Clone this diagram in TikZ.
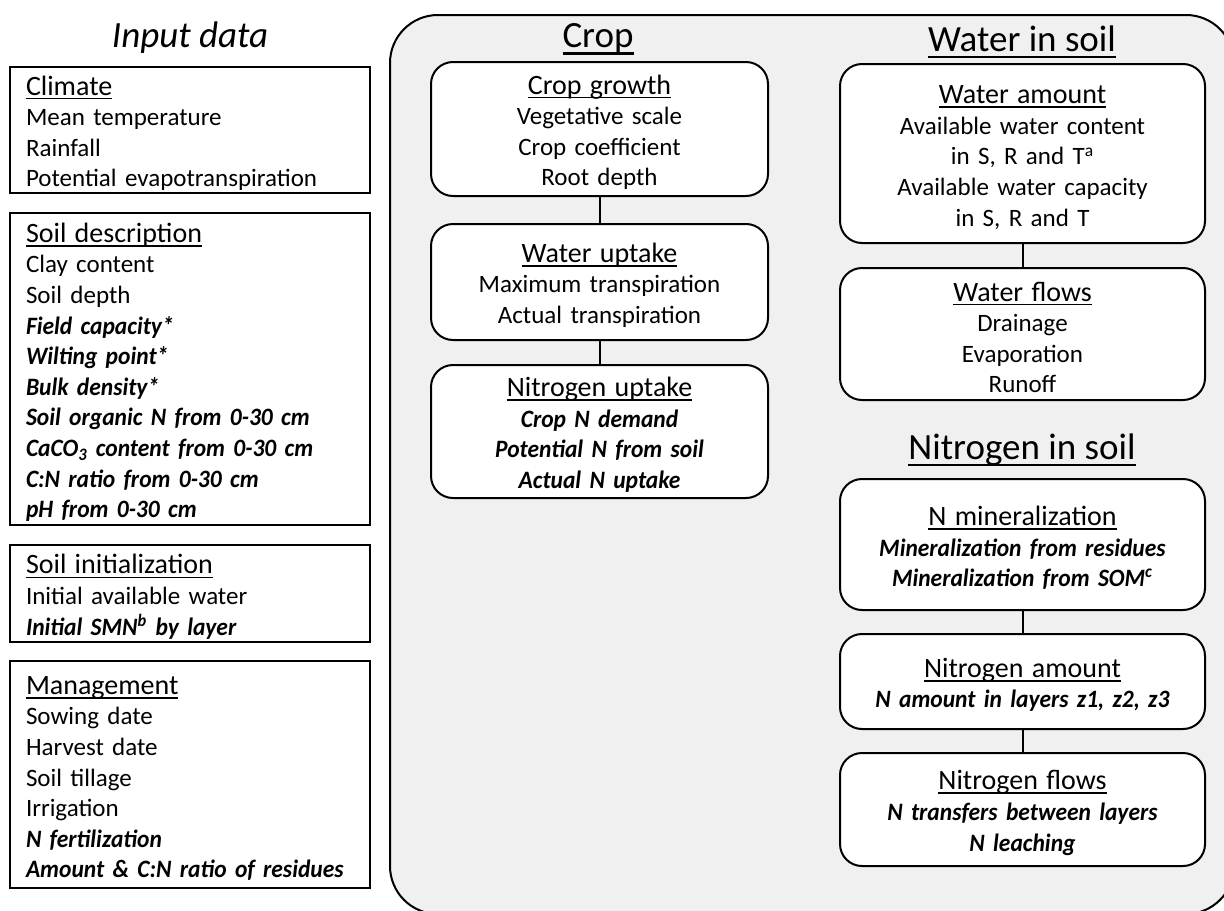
\documentclass[tikz,border=0pt]{standalone}
\usepackage{fontspec}
\setmainfont{Carlito}[BoldItalicFeatures={FakeStretch=0.94,WordSpace=0.7}]
\usepackage{tikz}

\newsavebox{\ulbox}
\newcommand{\ulin}[3]{\sbox{\ulbox}{#3}\rlap{\usebox{\ulbox}}\rule[\dimexpr-#1-#2\relax]{\wd\ulbox}{#2}}
\newcommand{\bfit}[1]{\textbf{\textit{#1}}}
\newcommand{\uhead}[1]{{\fontsize{14}{15.3}\selectfont\rule{0pt}{13pt}\ulin{1.3pt}{0.9pt}{#1}}}
\newcommand{\utitle}[1]{\ulin{2.2pt}{1.3pt}{#1}}

\begin{document}
\begin{tikzpicture}[
		x=0.5pt, y=-0.5pt,
		inbox/.style={draw,line width=1pt,fill=white,align=left,text width=164pt,inner xsep=8pt,inner ysep=0pt,font=\fontsize{12.5}{15.3}\selectfont},
		modbox/.style={draw,line width=1pt,fill=white,rounded corners=11pt,align=center,inner sep=0pt,font=\fontsize{12.5}{15.3}\selectfont},
		cropbox/.style={modbox,text width=168.5pt},
		soilbox/.style={modbox,text width=182.5pt},
		ttl/.style={inner sep=0pt,font=\fontsize{18.5}{22}\selectfont},
		link/.style={line width=1pt}]
	\clip (0,0) rectangle (1224,910);
	%% define background
	\draw[line width=1pt,fill=black!6,rounded corners=24pt] (390,15) rectangle (1234,914);
	%% define titles
	\node[ttl,font=\fontsize{18.5}{22}\selectfont\itshape] (inputttl) at (190,38) {Input data};
	\node[ttl] (cropttl) at (598,39) {\utitle{Crop}};
	\node[ttl] (waterttl) at (1022,42) {\utitle{Water in soil}};
	\node[ttl] (nitrottl) at (1022,450) {\utitle{Nitrogen in soil}};
	%% define input boxes
	\node[inbox,minimum height=63pt] (climate) at (190,130) {\uhead{Climate}\\ Mean temperature\\ Rainfall\\ Potential evapotranspiration};
	\node[inbox,minimum height=156pt] (soildesc) at (190,369) {\uhead{Soil description}\\ Clay content\\ Soil depth\\ \bfit{Field capacity*}\\ \bfit{Wilting point*}\\ \bfit{Bulk density*}\\ \bfit{Soil organic N from 0-30 cm}\\ \bfit{CaCO\textsubscript{3} content from 0-30 cm}\\ \bfit{C:N ratio from 0-30 cm}\\ \bfit{pH from 0-30 cm}};
	\node[inbox,minimum height=48.5pt] (soilinit) at (190,593.5) {\uhead{Soil initialization}\\ Initial available water\\ \bfit{Initial SMN\textsuperscript{b} by layer}};
	\node[inbox,minimum height=113.5pt] (manage) at (190,774.5) {\uhead{Management}\\ Sowing date\\ Harvest date\\ Soil tillage\\ Irrigation\\ \bfit{N fertilization}\\ \bfit{Amount \& C:N ratio of residues}};
	%% define crop modules
	\node[cropbox,minimum height=67pt] (cropgrowth) at (599.5,129) {\uhead{Crop growth}\\ Vegetative scale\\ Crop coefficient\\ Root depth};
	\node[cropbox,minimum height=58pt] (wateruptake) at (599.5,282) {\uhead{Water uptake}\\ Maximum transpiration\\ Actual transpiration};
	\node[cropbox,minimum height=66.5pt] (nuptake) at (599.5,431.5) {\uhead{Nitrogen uptake}\\ \bfit{Crop N demand}\\ \bfit{Potential N from soil}\\ \bfit{Actual N uptake}};
	%% define soil modules
	\node[soilbox,minimum height=89.5pt] (wateramount) at (1022.5,153.5) {\uhead{Water amount}\\ Available water content\\ in S, R and T\textsuperscript{a}\\ Available water capacity\\ in S, R and T};
	\node[soilbox,minimum height=66pt] (waterflows) at (1022.5,334) {\uhead{Water flows}\\ Drainage\\ Evaporation\\ Runoff};
	\node[soilbox,minimum height=65.5pt] (nmineral) at (1022.5,544.5) {\uhead{N mineralization}\\ \bfit{Mineralization from residues}\\ \bfit{Mineralization from SOM\textsuperscript{c}}};
	\node[soilbox,minimum height=47.5pt] (namount) at (1022.5,681.5) {\uhead{Nitrogen amount}\\ \bfit{N amount in layers z1, z2, z3}};
	\node[soilbox,minimum height=56.5pt] (nflows) at (1022.5,809.5) {\uhead{Nitrogen flows}\\ \bfit{N transfers between layers}\\ \bfit{N leaching}};
	%% define links
	\draw[link] (cropgrowth.south) -- (wateruptake.north);
	\draw[link] (wateruptake.south) -- (nuptake.north);
	\draw[link] (wateramount.south) -- (waterflows.north);
	\draw[link] (nmineral.south) -- (namount.north);
	\draw[link] (namount.south) -- (nflows.north);
\end{tikzpicture}
\end{document}
